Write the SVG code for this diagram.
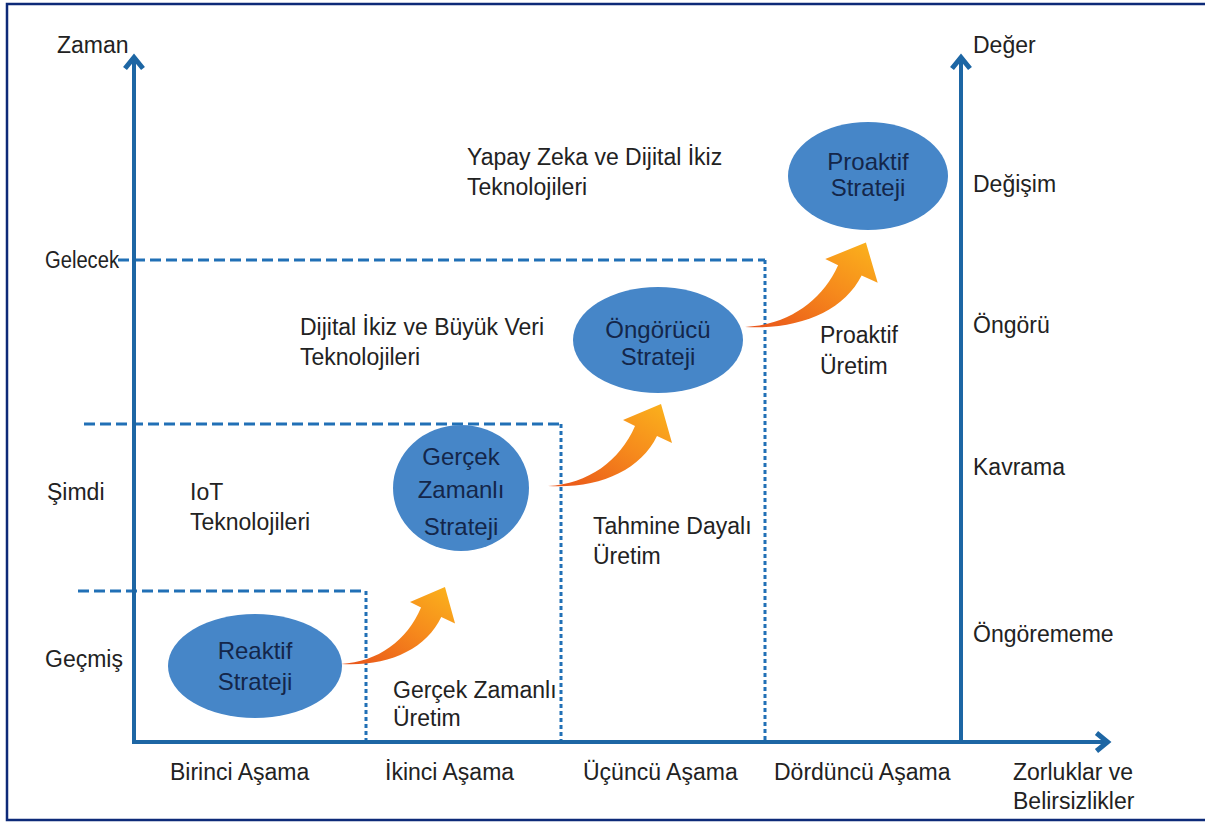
<svg xmlns="http://www.w3.org/2000/svg" width="1205" height="823" viewBox="0 0 1205 823">
<style>
text{font-family:"Liberation Sans",Arial,sans-serif;font-size:23px;fill:#222}
.n text{fill:#14264a;text-anchor:middle;font-size:24px}
.el{fill:#4686c8}
.axis{stroke:#1d66a4;stroke-width:4;fill:none}
.head{stroke:#1d66a4;stroke-width:5;fill:none;stroke-linejoin:miter}
.dh{stroke:#2170b6;stroke-width:3;fill:none;stroke-dasharray:11 5}
.dv{stroke:#2170b6;stroke-width:3;fill:none;stroke-dasharray:4 3}
.arr{fill:url(#og)}
</style>
<defs>
<linearGradient id="og" x1="0" y1="1" x2="1" y2="0">
<stop offset="0" stop-color="#e8521a"/>
<stop offset="0.55" stop-color="#f68a1c"/>
<stop offset="1" stop-color="#fbb41c"/>
</linearGradient>
<path id="curv" d="M0,0 C40,-2 72,-25 87,-60 L75,-66 L113,-82 L124,-43 L109,-50 C92,-15 50,3 0,0 Z"/>
</defs>
<rect x="7" y="4" width="1210" height="816" fill="none" stroke="#0d2a78" stroke-width="2.5"/>

<g id="grid">
<path class="dh" d="M118,260 H765"/><path class="dv" d="M765,260 V742"/>
<path class="dh" d="M84,424 H561"/><path class="dv" d="M561,424 V742"/>
<path class="dh" d="M78,591 H366"/><path class="dv" d="M366,591 V742"/>
</g>

<g id="axes">
<path class="axis" d="M134,742 V58"/>
<polyline class="head" points="125,68.5 134,57.5 143,68.5"/>
<path class="axis" d="M961,742 V58"/>
<polyline class="head" points="952,68.5 961,57.5 970,68.5"/>
<path class="axis" d="M132,742 H1105"/>
<polyline class="head" points="1096.5,733 1107.5,742 1096.5,751"/>
</g>

<g id="connectors">
<use href="#curv" class="arr" transform="translate(341,664) scale(0.92,0.94)"/>
<use href="#curv" class="arr" transform="translate(548,486)"/>
<use href="#curv" class="arr" transform="translate(745,327) scale(1.07,1.03)"/>
</g>

<g id="n-reaktif" class="n"><ellipse class="el" cx="255" cy="666" rx="87" ry="52"/><text x="255" y="659">Reaktif</text><text x="255" y="690">Strateji</text></g>
<g id="n-gercek" class="n"><ellipse class="el" cx="461" cy="488" rx="68" ry="63"/><text x="461" y="465">Gerçek</text><text x="461" y="498">Zamanlı</text><text x="461" y="535">Strateji</text></g>
<g id="n-ongorucu" class="n"><ellipse class="el" cx="658" cy="340" rx="85" ry="53"/><text x="658" y="338">Öngörücü</text><text x="658" y="365">Strateji</text></g>
<g id="n-proaktif" class="n"><ellipse class="el" cx="868" cy="176" rx="80" ry="54"/><text x="868" y="170">Proaktif</text><text x="868" y="196">Strateji</text></g>

<g id="labels">
<text x="57" y="53">Zaman</text>
<text x="973" y="53">Değer</text>
<text x="467" y="165">Yapay Zeka ve Dijital İkiz</text>
<text x="467" y="195">Teknolojileri</text>
<text x="45" y="268" textLength="74" lengthAdjust="spacingAndGlyphs">Gelecek</text>
<text x="973" y="192">Değişim</text>
<text x="300" y="335">Dijital İkiz ve Büyük Veri</text>
<text x="300" y="365">Teknolojileri</text>
<text x="820" y="343">Proaktif</text>
<text x="820" y="374">Üretim</text>
<text x="973" y="333">Öngörü</text>
<text x="973" y="475">Kavrama</text>
<text x="47" y="500">Şimdi</text>
<text x="190" y="500">IoT</text>
<text x="190" y="530">Teknolojileri</text>
<text x="593" y="534">Tahmine Dayalı</text>
<text x="593" y="564">Üretim</text>
<text x="973" y="642">Öngörememe</text>
<text x="45" y="667">Geçmiş</text>
<text x="393" y="698">Gerçek Zamanlı</text>
<text x="393" y="726">Üretim</text>
<text x="170" y="780">Birinci Aşama</text>
<text x="385" y="780">İkinci Aşama</text>
<text x="583" y="780">Üçüncü Aşama</text>
<text x="774" y="780">Dördüncü Aşama</text>
<text x="1013" y="780">Zorluklar ve</text>
<text x="1013" y="809">Belirsizlikler</text>
</g>
</svg>
